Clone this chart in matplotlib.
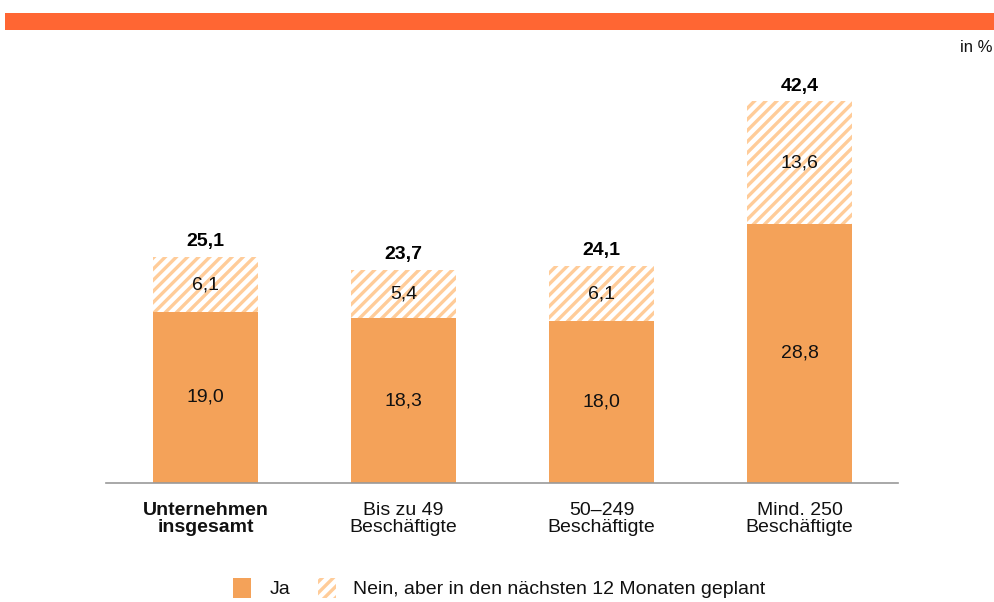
import matplotlib
matplotlib.use("Agg")
import matplotlib.pyplot as plt
from matplotlib.patches import Rectangle
import numpy as np

plt.rcParams['font.family'] = ['Liberation Sans', 'DejaVu Sans']
plt.rcParams['hatch.linewidth'] = 2.4

categories = ["Unternehmen\ninsgesamt", "Bis zu 49\nBeschäftigte", "50–249\nBeschäftigte", "Mind. 250\nBeschäftigte"]
ja = [19.0, 18.3, 18.0, 28.8]
geplant = [6.1, 5.4, 6.1, 13.6]
totals = [25.1, 23.7, 24.1, 42.4]
legend_labels = ["Ja", "Nein, aber in den nächsten 12 Monaten geplant"]

c_ja = "#F4A259"
c_hatch = "#FFCC99"
c_band = "#FF6633"
c_text = "#111111"

def fmt(v):
    return f"{v:.1f}".replace(".", ",")

fig = plt.figure(figsize=(9.95, 6.02), dpi=100)
ax = fig.add_axes([0.107, 0.1977, 0.796, 0.7027])

x = np.arange(len(categories))
w = 0.53
ax.bar(x, ja, width=w, color=c_ja, edgecolor="none")
ax.bar(x, geplant, width=w, bottom=ja, facecolor="white", edgecolor=c_hatch,
       hatch="///", linewidth=0)

for i in range(len(x)):
    ax.text(x[i], ja[i] / 2, fmt(ja[i]), ha="center", va="center", fontsize=14, color=c_text)
    ax.text(x[i], ja[i] + geplant[i] / 2, fmt(geplant[i]), ha="center", va="center", fontsize=14, color=c_text)
    ax.text(x[i], totals[i] + 0.75, fmt(totals[i]), ha="center", va="bottom", fontsize=14,
            fontweight="bold", color="#000000")

ax.set_xlim(-0.5, 3.5)
ax.set_ylim(0, 47)
for s in ["top", "right", "left"]:
    ax.spines[s].set_visible(False)
ax.spines["bottom"].set_color("#999999")
ax.spines["bottom"].set_linewidth(1.2)
ax.set_yticks([])
ax.set_xticks(x)
ax.set_xticklabels(categories, fontsize=14, linespacing=1.0, color=c_text)
ax.tick_params(axis="x", length=0, pad=14)
ax.get_xticklabels()[0].set_fontweight("bold")

# top band
fig.patches.append(Rectangle((0.005, 1 - 30 / 602), 0.995, 17 / 602, transform=fig.transFigure,
                             facecolor=c_band, edgecolor="none"))
fig.text(0.997, 1 - 47 / 602, "in %", ha="right", va="center", fontsize=12, color=c_text)

# legend
ly = 1 - 598 / 602
lh = 20 / 602
fig.patches.append(Rectangle((233 / 995, ly), 18 / 995, lh, transform=fig.transFigure,
                             facecolor=c_ja, edgecolor="none"))
fig.patches.append(Rectangle((318 / 995, ly), 18 / 995, lh, transform=fig.transFigure,
                             facecolor="white", edgecolor=c_hatch, hatch="///", linewidth=0))
fig.text(270 / 995, 1 - 590 / 602, legend_labels[0], ha="left", va="center", fontsize=14, color=c_text)
fig.text(353 / 995, 1 - 590 / 602, legend_labels[1], ha="left", va="center", fontsize=14, color=c_text)

fig.savefig("out.png", dpi=100)
